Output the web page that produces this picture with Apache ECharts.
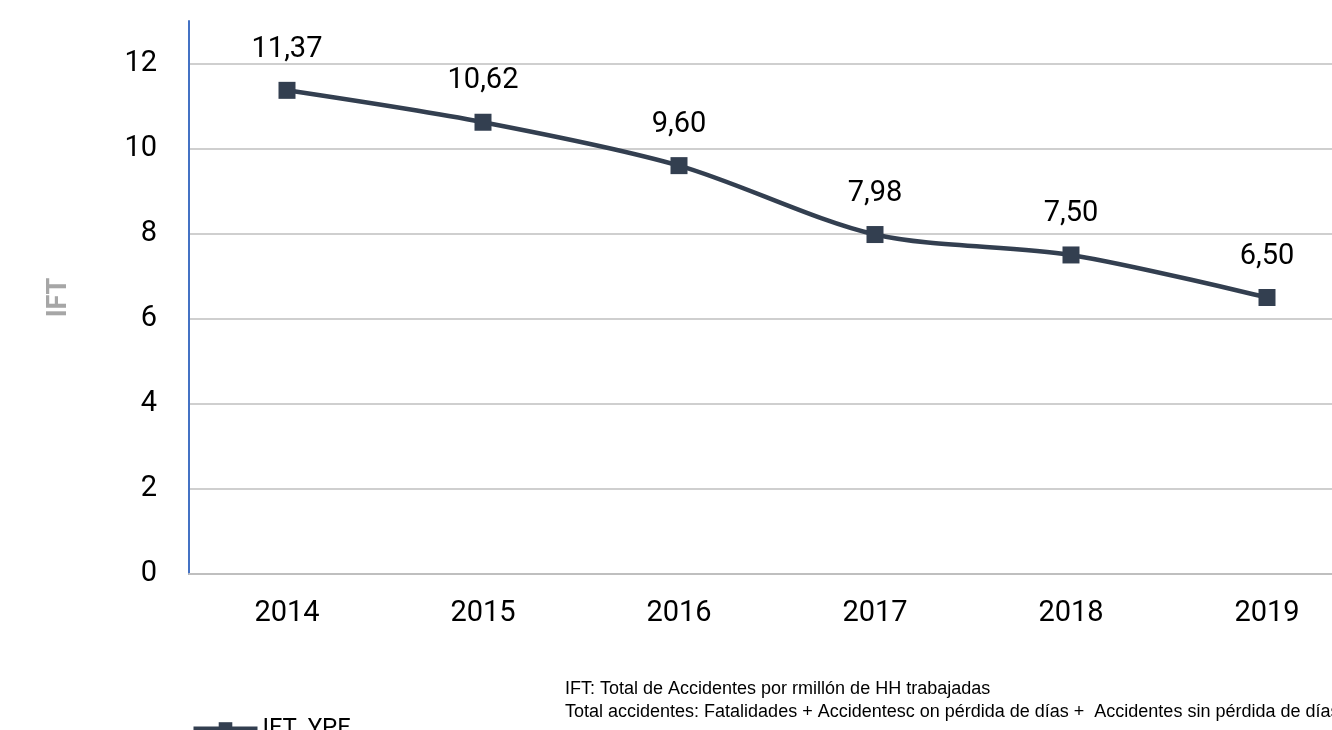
<!DOCTYPE html>
<html>
<head>
<meta charset="utf-8">
<script src="https://cdn.jsdelivr.net/npm/echarts@6/dist/echarts.min.js"></script>
<style>html,body{margin:0;padding:0;background:#fff;}#c{width:1332px;height:730px;}</style>
</head>
<body>
<div id="c"></div>
<script>
const categories = ['2014', '2015', '2016', '2017', '2018', '2019'];
const values = [11.37, 10.62, 9.60, 7.98, 7.50, 6.50];
const seriesName = 'IFT_YPF';
const yAxisName = 'IFT';
const notes = [
  'IFT: Total de Accidentes por rmillón de HH trabajadas',
  'Total accidentes: Fatalidades + Accidentesc on pérdida de días +  Accidentes sin pérdida de días'
];

const chart = echarts.init(document.getElementById('c'));
chart.setOption({
  animation: false,
  backgroundColor: '#fff',
  grid: { left: 189, top: 21, width: 1176, bottom: 156, containLabel: false, outerBoundsMode: 'none' },
  legend: {
    left: 186, top: 712, itemWidth: 64, itemHeight: 17, itemGap: 7,
    lineStyle: { width: 5 },
    textStyle: { fontFamily: 'Roboto', fontSize: 24, color: '#000' },
    data: [seriesName]
  },
  graphic: [{
    type: 'text', left: 565, top: 678,
    style: { text: notes.join('\n'), font: '18px "Liberation Sans", Arial, sans-serif', fill: '#000', lineHeight: 23 }
  }],
  xAxis: {
    type: 'category', data: categories, boundaryGap: true,
    axisLine: { show: true, lineStyle: { color: '#BFBFBF', width: 2 } },
    axisTick: { show: false },
    axisLabel: { fontFamily: 'Roboto', fontSize: 29, color: '#000', margin: 25 },
    splitLine: { show: false }
  },
  yAxis: {
    type: 'value', min: 0, max: 13, interval: 2,
    name: yAxisName, nameLocation: 'middle', nameGap: 116, nameRotate: 90,
    nameTextStyle: { fontFamily: 'Roboto', fontSize: 27, fontWeight: 'bold', color: '#A6A6A6' },
    axisLine: { show: true, lineStyle: { color: '#4472C4', width: 2 } },
    axisTick: { show: false },
    axisLabel: { fontFamily: 'Roboto', fontSize: 29, color: '#000', margin: 32, showMaxLabel: false,
      formatter: v => (v > 12 ? '' : String(v)) },
    splitLine: { show: true, showMaxLine: false, lineStyle: { color: '#BFBFBF', width: 1.5 } }
  },
  series: [{
    name: seriesName, type: 'line', data: values, smooth: 0.3,
    symbol: 'rect', symbolSize: 17,
    lineStyle: { color: '#333F50', width: 4.5 },
    itemStyle: { color: '#333F50' },
    label: {
      show: true, position: 'top', distance: 18,
      fontFamily: 'Roboto', fontSize: 29, color: '#000',
      formatter: p => p.value.toFixed(2).replace('.', ',')
    }
  }]
});
</script>
</body>
</html>
